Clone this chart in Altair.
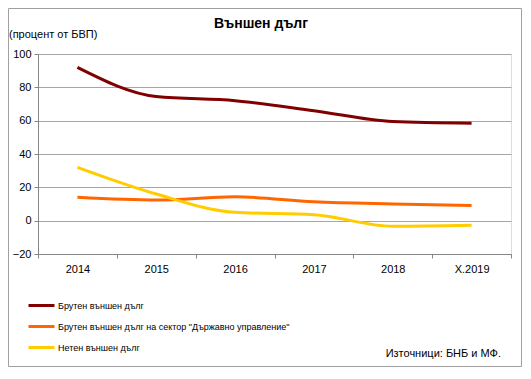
import altair as alt
import pandas as pd

categories = ["2014", "2015", "2016", "2017", "2018", "X.2019"]
series_names = [
    "Брутен външен дълг",
    "Брутен външен дълг на сектор \"Държавно управление\"",
    "Нетен външен дълг",
]
gross = [92.0, 74.5, 72.0, 66.0, 59.5, 58.5]
government = [14.0, 12.4, 14.3, 11.3, 10.0, 9.1]
net = [32.0, 16.0, 5.0, 3.6, -3.4, -2.8]
colors = ["#800000", "#FF6600", "#FFCC00"]

title_text = "Външен дълг"
unit_text = "(процент от БВП)"
source_text = "Източници: БНБ и МФ."
y_ticks = [-20, 0, 20, 40, 60, 80, 100]

rows = []
for name, vals in zip(series_names, [gross, government, net]):
    for c, v in zip(categories, vals):
        rows.append({"cat": c, "series": name, "value": v})
df = pd.DataFrame(rows)

FONT = "Liberation Sans"

lines = alt.Chart(df).mark_line(strokeWidth=3, interpolate="monotone").encode(
    x=alt.X("cat:N", sort=categories,
            scale=alt.Scale(paddingInner=0, paddingOuter=0),
            axis=alt.Axis(title=None, labelAngle=0, tickBand="extent", tickSize=4,
                          labelPadding=5, labelFontSize=11, labelColor="#000000",
                          domainColor="#868686", tickColor="#868686", labelFont=FONT)),
    y=alt.Y("value:Q", scale=alt.Scale(domain=[-20, 100], nice=False, zero=False),
            axis=alt.Axis(title=None, values=y_ticks, tickSize=4, labelPadding=3,
                          labelFontSize=11, labelColor="#000000", grid=True,
                          gridColor="#a6a6a6", domainColor="#868686",
                          tickColor="#868686", labelFont=FONT)),
    color=alt.Color("series:N", sort=series_names,
                    scale=alt.Scale(domain=series_names, range=colors),
                    legend=alt.Legend(title=None, orient="none", legendX=-11, legendY=237,
                                      direction="vertical", symbolType="stroke",
                                      symbolSize=676, symbolStrokeWidth=3,
                                      labelFontSize=9, labelFont=FONT, labelColor="#000000",
                                      labelOffset=2, rowPadding=-2, padding=0,
                                      labelLimit=400)),
)

title = alt.Chart(pd.DataFrame({"t": [title_text]})).mark_text(
    font=FONT, fontSize=14, fontWeight="bold", align="center", baseline="alphabetic",
    color="#000000").encode(text="t:N", x=alt.value(223), y=alt.value(-26))

unit = alt.Chart(pd.DataFrame({"t": [unit_text]})).mark_text(
    font=FONT, fontSize=11, align="left", baseline="alphabetic",
    color="#000000").encode(text="t:N", x=alt.value(-29), y=alt.value(-16))

source = alt.Chart(pd.DataFrame({"t": [source_text]})).mark_text(
    font=FONT, fontSize=11, align="right", baseline="alphabetic",
    color="#000000").encode(text="t:N", x=alt.value(463), y=alt.value(303))

border = alt.Chart(pd.DataFrame({"t": [0]})).mark_rect(
    fill=None, stroke="#a0a0a0", strokeWidth=1).encode(
    x=alt.value(-29.5), x2=alt.value(483.5), y=alt.value(-45.5), y2=alt.value(312.5))

chart = alt.layer(border, lines, title, unit, source).properties(
    width=473, height=200,
    autosize=alt.AutoSizeParams(type="none"),
    padding={"left": 30, "top": 46, "right": 12, "bottom": 116},
).configure_view(stroke="#868686").configure(background="#ffffff")

chart.save("out.html", embed_options={"renderer": "svg", "actions": False})
